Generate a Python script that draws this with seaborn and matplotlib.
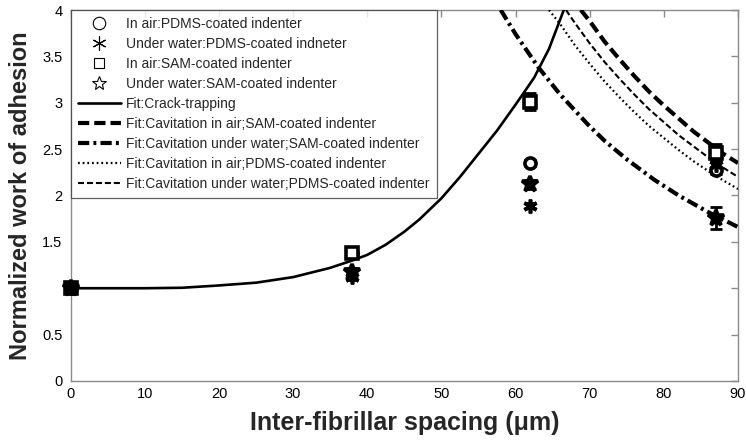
import matplotlib
matplotlib.use("Agg")
import matplotlib.pyplot as plt
from matplotlib.lines import Line2D
from matplotlib import font_manager
import seaborn as sns

# ---- measured adhesion (normalized) ----
spacing = [0, 38, 62, 87]
air_pdms = [1.0, 1.38, 2.35, 2.27]
air_pdms_err = [0.02, 0.03, 0.03, 0.04]
water_pdms = [1.0, 1.12, 1.89, 2.33]
water_pdms_err = [0.02, 0.03, 0.03, 0.04]
air_sam = [1.0, 1.38, 3.01, 2.46]
air_sam_err = [0.02, 0.03, 0.09, 0.09]
water_sam = [1.0, 1.18, 2.12, 1.76]
water_sam_err = [0.02, 0.04, 0.05, 0.12]

# ---- model fits ----
crack_x = [0, 5, 10, 15, 20, 25, 30, 35, 38, 40, 42.5, 45, 47, 50, 52.5, 55,
           57.5, 60, 62.5, 64.5, 66.5]
crack_y = [1.0, 1.0, 1.0, 1.005, 1.03, 1.06, 1.12, 1.22, 1.30, 1.36, 1.47,
           1.61, 1.74, 1.97, 2.2, 2.45, 2.7, 2.98, 3.27, 3.58, 4.0]

cav_air_sam_x = [68.8, 70, 72, 74, 76, 78, 80, 82, 84, 86, 88, 90]
cav_air_sam_y = [4.0, 3.88, 3.66, 3.47, 3.29, 3.12, 2.97, 2.83, 2.69, 2.57, 2.45, 2.35]

cav_water_sam_x = [58.0, 60, 63, 66, 69.7, 72, 75, 78.7, 82, 86, 90]
cav_water_sam_y = [4.0, 3.74, 3.39, 3.09, 2.77, 2.59, 2.39, 2.17, 2.0, 1.82, 1.66]

cav_air_pdms_x = [64.5, 66, 68, 70, 72, 74, 76, 78, 80, 82, 84, 87, 90]
cav_air_pdms_y = [4.0, 3.85, 3.62, 3.42, 3.23, 3.06, 2.90, 2.75, 2.62, 2.49, 2.37, 2.21, 2.07]

cav_water_pdms_x = [66.8, 68, 70, 72, 74, 76, 78, 80, 82, 84, 86, 88, 90]
cav_water_pdms_y = [4.0, 3.86, 3.64, 3.44, 3.26, 3.09, 2.93, 2.79, 2.65, 2.53, 2.41, 2.30, 2.20]

x_ticks = [0, 10, 20, 30, 40, 50, 60, 70, 80, 90]
y_ticks = [0, 0.5, 1, 1.5, 2, 2.5, 3, 3.5, 4]
y_tick_labels = ["0", "0.5", "", "1.5", "2", "2.5", "3", "3.5", "4"]

legend_labels = [
    "In air:PDMS-coated indenter",
    "Under water:PDMS-coated indneter",
    "In air:SAM-coated indenter",
    "Under water:SAM-coated indenter",
    "Fit:Crack-trapping",
    "Fit:Cavitation in air;SAM-coated indenter",
    "Fit:Cavitation under water;SAM-coated indenter",
    "Fit:Cavitation in air;PDMS-coated indenter",
    "Fit:Cavitation under water;PDMS-coated indenter",
]


def pick_font(*names):
    for n in names:
        try:
            font_manager.findfont(n, fallback_to_default=False)
            return n
        except Exception:
            continue
    return "DejaVu Sans"


sns.set_theme(style="white")
regular = pick_font("Liberation Sans", "Arial", "DejaVu Sans")
plt.rcParams["font.family"] = [regular, "DejaVu Sans"]

fig = plt.figure(figsize=(7.46, 4.43), dpi=100)
ax = fig.add_axes([0.0948, 0.14, 0.8945, 0.8374])

axis_grey = "#8a8a8a"

# fitted curves
ls_heavy_dash = (0, (2.7, 1.2))
ls_heavy_dashdot = (0, (2.7, 1.0, 0.7, 1.0))
ls_dotted = (0, (0.8, 1.3))
ls_thin_dash = (0, (2.9, 1.4))

sns.lineplot(x=crack_x, y=crack_y, ax=ax, color="black", linewidth=1.9,
             linestyle="-", sort=True, zorder=3)
sns.lineplot(x=cav_air_sam_x, y=cav_air_sam_y, ax=ax, color="black",
             linewidth=3.0, linestyle=ls_heavy_dash, zorder=3)
sns.lineplot(x=cav_water_sam_x, y=cav_water_sam_y, ax=ax, color="black",
             linewidth=3.0, linestyle=ls_heavy_dashdot, zorder=3)
sns.lineplot(x=cav_air_pdms_x, y=cav_air_pdms_y, ax=ax, color="black",
             linewidth=1.6, linestyle=ls_dotted, zorder=3)
sns.lineplot(x=cav_water_pdms_x, y=cav_water_pdms_y, ax=ax, color="black",
             linewidth=1.5, linestyle=ls_thin_dash, zorder=3)

# measured points with error bars
asterisk = (6, 2, 0)
series = [
    (air_pdms, air_pdms_err, "o", 8, "white"),
    (water_pdms, water_pdms_err, asterisk, 10, "black"),
    (air_sam, air_sam_err, "s", 8, "white"),
    (water_sam, water_sam_err, "*", 12, "black"),
]
for vals, errs, mk, ms, fc in series:
    ax.errorbar(spacing, vals, yerr=errs, fmt="none", ecolor="black",
                elinewidth=2.0, capsize=4, capthick=2.0, zorder=4,
                clip_on=False)
    ax.plot(spacing, vals, linestyle="none", marker=mk, markersize=ms,
            markerfacecolor=fc, markeredgecolor="black", markeredgewidth=2.6,
            zorder=5, clip_on=False)

ax.set_xlim(0, 90)
ax.set_ylim(0, 4)
ax.set_xticks(x_ticks)
ax.set_xticklabels([str(t) for t in x_ticks])
ax.set_yticks(y_ticks)
ax.set_yticklabels(y_tick_labels)

for s in ax.spines.values():
    s.set_color(axis_grey)
    s.set_linewidth(1.0)
    s.set_visible(True)

ax.tick_params(axis="both", which="both", direction="in", length=5,
               width=1.0, color=axis_grey, top=True, right=True,
               labelsize=10.5, labelcolor="black")
ax.tick_params(axis="x", pad=4)
ax.tick_params(axis="y", pad=6)

ax.set_xlabel("Inter-fibrillar spacing (\u03bcm)", fontsize=18,
              fontweight="bold")
ax.set_ylabel("Normalized work of adhesion", fontsize=17,
              fontweight="bold")
ax.xaxis.set_label_coords(0.5, -0.08)
ax.yaxis.set_label_coords(-0.058, 0.5)

# legend
handles = [
    Line2D([], [], linestyle="none", marker="o", markersize=9,
           markerfacecolor="white", markeredgecolor="black", markeredgewidth=0.8),
    Line2D([], [], linestyle="none", marker=asterisk, markersize=10,
           markeredgecolor="black", markeredgewidth=0.8),
    Line2D([], [], linestyle="none", marker="s", markersize=7,
           markerfacecolor="white", markeredgecolor="black", markeredgewidth=0.8),
    Line2D([], [], linestyle="none", marker="*", markersize=10,
           markerfacecolor="white", markeredgecolor="black", markeredgewidth=0.8),
    Line2D([], [], color="black", linewidth=1.9, linestyle="-"),
    Line2D([], [], color="black", linewidth=3.0, linestyle=ls_heavy_dash),
    Line2D([], [], color="black", linewidth=3.0, linestyle=ls_heavy_dashdot),
    Line2D([], [], color="black", linewidth=1.6, linestyle=ls_dotted),
    Line2D([], [], color="black", linewidth=1.5, linestyle=ls_thin_dash),
]
leg = ax.legend(handles, legend_labels, loc="upper left",
                bbox_to_anchor=(0.0, 1.0), borderaxespad=0.0,
                prop={"family": [regular, "DejaVu Sans"], "size": 10},
                handlelength=3.1, handletextpad=0.4, labelspacing=0.43,
                borderpad=0.5, frameon=True, fancybox=False)
leg.get_frame().set_edgecolor("#3a3a3a")
leg.get_frame().set_linewidth(0.9)
leg.set_zorder(6)

fig.savefig("out.png", dpi=100, facecolor="white")
